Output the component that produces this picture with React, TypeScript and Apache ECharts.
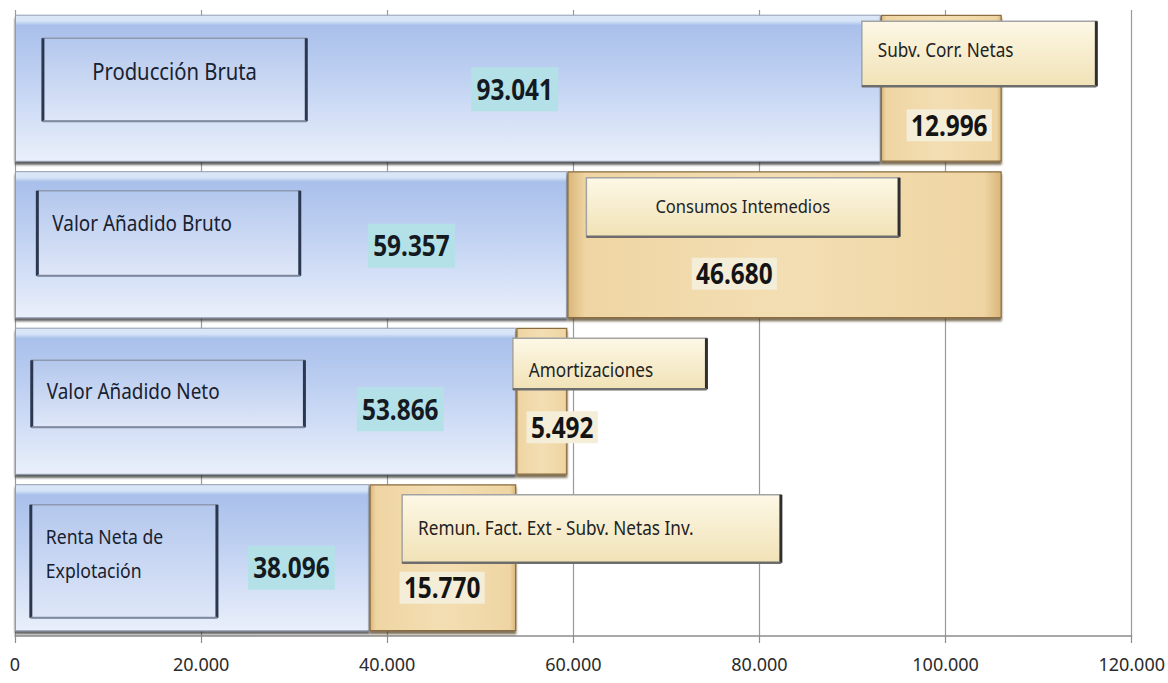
import React, { useEffect, useRef } from "react";
import * as echarts from "echarts";

// ---- data ----
const categories = ["Producción Bruta", "Valor Añadido Bruto", "Valor Añadido Neto", "Renta Neta de\nExplotación"];
const baseValues = [93041, 59357, 53866, 38096];
const addNames = ["Subv. Corr. Netas", "Consumos Intemedios", "Amortizaciones", "Remun. Fact. Ext - Subv. Netas Inv."];
const addValues = [12996, 46680, 5492, 15770];
const axisMin = 0;
const axisMax = 120000;
const axisStep = 20000;

// ---- annotation layout (x in axis units, y as px offsets from the band centre) ----
const catBoxLayout = [
  { x0: 3000, x1: 31300, top: -50, bottom: 33, align: "center", ty: -17, size: 23 },
  { x0: 2400, x1: 30600, top: -54, bottom: 31, align: "left", ty: -22, size: 21.5 },
  { x0: 1800, x1: 31100, top: -41, bottom: 26, align: "left", ty: -11, size: 21.5 },
  { x0: 1700, x1: 21700, top: -53, bottom: 60, align: "left", ty: -4, size: 20 },
];
const baseLabelLayout = [
  { x: 53700, dy: 1 },
  { x: 42600, dy: 1 },
  { x: 41400, dy: 8 },
  { x: 29700, dy: 10 },
];
const addBoxLayout = [
  { x0: 91000, x1: 116200, top: -67, bottom: -2, align: "left", ty: -39, size: 19.5 },
  { x0: 61400, x1: 95000, top: -67, bottom: -8, align: "center", ty: -39, size: 18.8 },
  { x0: 53500, x1: 74300, top: -63, bottom: -12, align: "left", ty: -32, size: 19.5 },
  { x0: 41600, x1: 82300, top: -63, bottom: 5, align: "left", ty: -31, size: 19.5 },
];
const addLabelLayout = [
  { x: 100400, dy: 37 },
  { x: 77300, dy: 29 },
  { x: 58800, dy: 26 },
  { x: 45900, dy: 30 },
];

const FONT = "'Noto Sans', 'Open Sans', sans-serif";
const NARROW = 0.88;

function fmt(v: number): string {
  return String(v).replace(/\B(?=(\d{3})+(?!\d))/g, ".");
}

export default function App() {
  const ref = useRef<HTMLDivElement>(null);

  useEffect(() => {
    if (!ref.current) return;
    const chart = echarts.init(ref.current, undefined, { renderer: "svg" });

    const blueFill = new echarts.graphic.LinearGradient(0, 0, 0, 1, [
      { offset: 0, color: "#dce8f8" },
      { offset: 0.04, color: "#d6e4f7" },
      { offset: 0.07, color: "#a9c0eb" },
      { offset: 0.45, color: "#c1d2f2" },
      { offset: 1, color: "#eaf0fb" },
    ]);
    const tanFill = new echarts.graphic.LinearGradient(0, 0, 1, 0, [
      { offset: 0, color: "#d9b67a" },
      { offset: 0.04, color: "#efd5a3" },
      { offset: 0.5, color: "#f3deb3" },
      { offset: 0.96, color: "#efd5a3" },
      { offset: 1, color: "#d9b67a" },
    ]);

    const renderItem = (params: any, api: any) => {
      const i = api.value(1);
      const cy = api.coord([0, i])[1];
      const X = (v: number) => api.coord([v, i])[0];
      const children: any[] = [];

      // category box
      const cb = catBoxLayout[i];
      const bx0 = X(cb.x0), bx1 = X(cb.x1), by0 = cy + cb.top, by1 = cy + cb.bottom;
      children.push({
        type: "rect",
        shape: { x: bx0, y: by0, width: bx1 - bx0, height: by1 - by0 },
        style: {
          fill: new echarts.graphic.LinearGradient(0, 0, 0, 1, [
            { offset: 0, color: "#b3c7ed" },
            { offset: 1, color: "#dfe7f8" },
          ]),
          stroke: "#8d99b0",
          lineWidth: 1.5,
        },
      });
      children.push({ type: "line", shape: { x1: bx0, y1: by0, x2: bx0, y2: by1 }, style: { stroke: "#2b374f", lineWidth: 3 } });
      children.push({ type: "line", shape: { x1: bx1, y1: by0, x2: bx1, y2: by1 }, style: { stroke: "#2b374f", lineWidth: 3 } });
      children.push({ type: "line", shape: { x1: bx0, y1: by1, x2: bx1, y2: by1 }, style: { stroke: "#7f8aa0", lineWidth: 2 } });
      children.push({
        type: "text",
        x: cb.align === "center" ? (bx0 + bx1) / 2 : bx0 + 15,
        y: cy + cb.ty,
        scaleX: NARROW,
        style: {
          text: categories[i],
          fontSize: cb.size,
          fontFamily: FONT,
          fill: "#18212f",
          align: cb.align,
          verticalAlign: "middle",
          lineHeight: 34,
        },
      });

      // base value label
      const bl = baseLabelLayout[i];
      children.push({
        type: "text",
        x: X(bl.x),
        y: cy + bl.dy,
        scaleX: 0.87,
        style: {
          text: fmt(baseValues[i]),
          fontSize: 28,
          fontWeight: "bold",
          fontFamily: FONT,
          fill: "#141a22",
          align: "center",
          verticalAlign: "middle",
          backgroundColor: "#b4e1e8",
          padding: [8, 6, 8, 6],
        },
      });

      // added-part name box
      const ab = addBoxLayout[i];
      const ax0 = X(ab.x0), ax1 = X(ab.x1), ay0 = cy + ab.top, ay1 = cy + ab.bottom;
      children.push({
        type: "rect",
        shape: { x: ax0, y: ay0, width: ax1 - ax0, height: ay1 - ay0 },
        style: {
          fill: new echarts.graphic.LinearGradient(0, 0, 0, 1, [
            { offset: 0, color: "#fdf8e6" },
            { offset: 1, color: "#f1e2b6" },
          ]),
          stroke: "#a3a3a3",
          lineWidth: 1.5,
        },
      });
      children.push({ type: "line", shape: { x1: ax1, y1: ay0, x2: ax1, y2: ay1 }, style: { stroke: "#2f2f2f", lineWidth: 3 } });
      children.push({ type: "line", shape: { x1: ax0, y1: ay1, x2: ax1, y2: ay1 }, style: { stroke: "#6d6d6d", lineWidth: 2.5 } });
      children.push({
        type: "text",
        x: ab.align === "center" ? (ax0 + ax1) / 2 : ax0 + 16,
        y: cy + ab.ty,
        scaleX: NARROW,
        style: {
          text: addNames[i],
          fontSize: ab.size,
          fontFamily: FONT,
          fill: "#222222",
          align: ab.align,
          verticalAlign: "middle",
        },
      });

      // added value label
      const al = addLabelLayout[i];
      children.push({
        type: "text",
        x: X(al.x),
        y: cy + al.dy,
        scaleX: 0.87,
        style: {
          text: fmt(addValues[i]),
          fontSize: 28,
          fontWeight: "bold",
          fontFamily: FONT,
          fill: "#141414",
          align: "center",
          verticalAlign: "middle",
          backgroundColor: "#f4edd7",
          padding: [2, 5, 2, 5],
        },
      });

      return { type: "group", children };
    };

    chart.setOption({
      animation: false,
      backgroundColor: "#ffffff",
      grid: { left: 15, right: 35, top: 10, bottom: 47, containLabel: false },
      xAxis: {
        type: "value",
        min: axisMin,
        max: axisMax,
        interval: axisStep,
        axisLine: { show: true, lineStyle: { color: "#8c8c8c", width: 1.5 } },
        axisTick: { show: true, length: 7, lineStyle: { color: "#8c8c8c", width: 1.2 } },
        splitLine: { show: true, lineStyle: { color: "#9a9a9a", width: 1.2 } },
        axisLabel: {
          fontFamily: FONT,
          fontSize: 18,
          color: "#2b2b2b",
          margin: 19,
          formatter: (v: number) => fmt(v),
        },
      },
      yAxis: {
        type: "category",
        data: categories,
        inverse: true,
        axisLine: { show: false },
        axisTick: { show: false },
        axisLabel: { show: false },
        splitLine: { show: false },
      },
      series: [
        {
          type: "bar",
          name: "base",
          stack: "total",
          data: baseValues,
          barCategoryGap: "6%",
          itemStyle: {
            color: blueFill,
            borderColor: "#8f9bb0",
            borderWidth: 1,
            shadowColor: "rgba(40,40,40,0.75)",
            shadowOffsetY: 3,
            shadowBlur: 2,
          },
          z: 2,
        },
        {
          type: "bar",
          name: "add",
          stack: "total",
          data: addValues,
          barCategoryGap: "6%",
          itemStyle: {
            color: tanFill,
            borderColor: "#8a6c40",
            borderWidth: 1.2,
            shadowColor: "rgba(70,50,20,0.7)",
            shadowOffsetY: 3,
            shadowBlur: 2,
          },
          z: 2,
        },
        {
          type: "custom",
          name: "annotations",
          silent: true,
          z: 5,
          renderItem,
          encode: { x: 0, y: 1 },
          data: categories.map((_, i) => [0, i]),
        },
      ],
    });

    return () => chart.dispose();
  }, []);

  return (
    <div
      ref={ref}
      style={{ position: "fixed", left: 0, top: 0, width: 1168, height: 683, background: "#fff" }}
    />
  );
}
